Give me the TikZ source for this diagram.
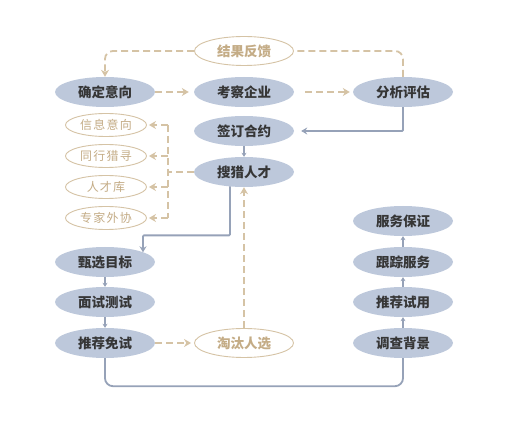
\documentclass[tikz,border=0pt]{standalone}
\usepackage{fontspec}
\usepackage{tikz}
\usetikzlibrary{shapes.geometric, arrows.meta, positioning, calc}
\newfontfamily\cjk{Noto Sans CJK SC}
\definecolor{hbblue}{HTML}{BDC8DB}
\definecolor{hbline}{HTML}{96A2B8}
\definecolor{hbtan}{HTML}{D5C3A5}
\definecolor{hbtantext}{HTML}{C4AC86}
\definecolor{hbtext}{HTML}{363636}

\begin{document}
\begin{tikzpicture}[x=1pt, y=-1pt,
  stage/.style={ellipse, fill=hbblue, minimum width=100pt, minimum height=30pt, inner sep=0pt, text=hbtext, font=\cjk\fontsize{13.5}{14}\selectfont\bfseries},
  fback/.style={ellipse, draw=hbtan, line width=0.9pt, fill=white, minimum width=99pt, minimum height=29pt, inner sep=0pt, text=hbtantext, font=\cjk\fontsize{13.5}{14}\selectfont\bfseries},
  src/.style={ellipse, draw=hbtan, line width=0.9pt, fill=white, minimum width=81pt, minimum height=23pt, inner sep=0pt, text=hbtantext, font=\cjk\fontsize{12}{13}\selectfont\addfontfeature{LetterSpace=10}},
  arrb/.style={-{Stealth[length=6pt, width=7pt]}, line width=1.8pt, draw=hbline},
  lnb/.style={line width=1.8pt, draw=hbline},
  arrs/.style={-{Stealth[length=4pt, width=5pt]}, line width=1.2pt, draw=hbline},
  arrd/.style={-{Stealth[length=7pt, width=8pt]}, line width=1.8pt, draw=hbtan, dash pattern=on 7pt off 4pt},
  lnd/.style={line width=1.8pt, draw=hbtan, dash pattern=on 7pt off 4pt}
]
\useasboundingbox (0,0) rectangle (507,430);
% Top row
\node[stage] (qd) at (105,92) {确定意向};
\node[stage] (kc) at (244,92) {考察企业};
\node[stage] (fx) at (403,92) {分析评估};
\node[fback] (fk) at (244,51) {结果反馈};
\node[stage] (qy) at (244,131) {签订合约};
\node[stage] (sl) at (244,172) {搜猎人才};
% Sources
\node[src] (s1) at (106,125) {信息意向};
\node[src] (s2) at (106,156) {同行猎寻};
\node[src] (s3) at (106,187) {人才库};
\node[src] (s4) at (106,218) {专家外协};
\coordinate (bus) at (168,172);
% Left column
\node[stage] (zx) at (105,262) {甄选目标};
\node[stage] (ms) at (105,302) {面试测试};
\node[stage] (tj) at (105,343) {推荐免试};
\node[fback] (tt) at (244,343) {淘汰人选};
% Right column
\node[stage] (dc) at (403,343) {调查背景};
\node[stage] (ts) at (403,302) {推荐试用};
\node[stage] (gz) at (403,262) {跟踪服务};
\node[stage] (bz) at (403,221) {服务保证};

% Arrows
\draw[arrd] (qd) -- ([xshift=-5pt]kc.west);
\draw[arrd] ([xshift=11pt]kc.east) -- ([xshift=-3pt]fx.west);
\draw[lnd, rounded corners=8pt] (fx.north) |- (fk.east);
\draw[arrd, rounded corners=8pt] (fk.west) -| (qd.north);
\draw[arrb, rounded corners=1pt] (fx.south) |- ([xshift=7pt]qy.east);
\draw[arrs] (qy) -- (sl);
\draw[lnd] (sl.west) -- (bus);
\draw[lnd] (s1.east -| bus) -- (s4.east -| bus);
\foreach \s in {s1,s2,s3,s4}
  \draw[arrd] (\s.east -| bus) -- ([xshift=2pt]\s.east);
\draw[arrb, rounded corners=1pt] ([xshift=-14pt, yshift=-14.4pt]sl.center) -- ++(0,49) -| ([xshift=38pt, yshift=9.7pt]zx.center);
\draw[arrs] (zx) -- (ms);
\draw[arrs] (ms) -- (tj);
\draw[arrd] (tj) -- ([xshift=-3pt]tt.west);
\draw[arrd] (tt.north) -- (sl.south);
\draw[lnb, rounded corners=8pt] (tj.south) -- ++(0,28) -| (dc.south);
\draw[arrs] (dc) -- (ts);
\draw[arrs] (ts) -- (gz);
\draw[arrs] (gz) -- (bz);
\end{tikzpicture}
\end{document}
